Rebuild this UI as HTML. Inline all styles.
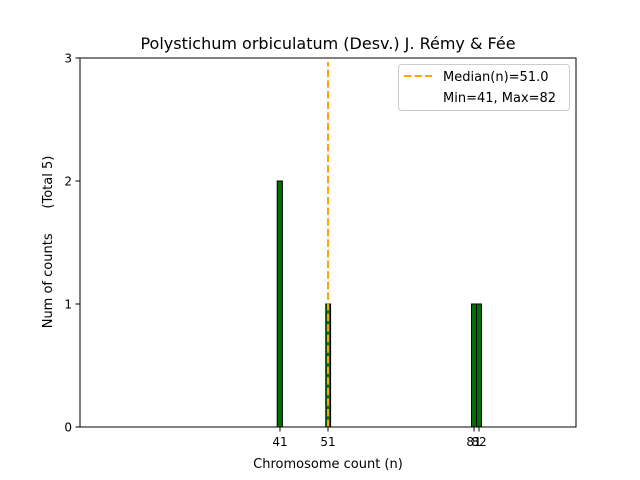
<!DOCTYPE html>
<html><head><style>body{margin:0;background:#fff}svg{display:block}text{font-family:"DejaVu Sans","Liberation Sans",sans-serif;fill:#000}</style></head>
<body>
<svg width="640" height="480" viewBox="0 0 640 480" xmlns="http://www.w3.org/2000/svg">
<rect width="640" height="480" fill="#fff"/>
<text x="328" y="49" font-size="16" text-anchor="middle">Polystichum orbiculatum (Desv.) J. Rémy &amp; Fée</text>
<g fill="#007000" stroke="#000" stroke-width="1">
<rect x="277.2" y="181" width="5.2" height="246"/>
<rect x="325.8" y="304" width="4.8" height="123"/>
<rect x="471.5" y="304" width="5" height="123"/>
<rect x="476.5" y="304" width="5" height="123"/>
</g>
<line x1="328" y1="427" x2="328" y2="62" stroke="#ffa500" stroke-width="2" stroke-dasharray="7.4,3.2"/>
<rect x="80" y="58" width="496" height="369" fill="none" stroke="#000" stroke-width="1"/>
<g stroke="#000" stroke-width="1">
<line x1="75.5" y1="427" x2="80" y2="427"/><line x1="75.5" y1="304" x2="80" y2="304"/>
<line x1="75.5" y1="181" x2="80" y2="181"/><line x1="75.5" y1="58" x2="80" y2="58"/>
<line x1="280" y1="427" x2="280" y2="431.5"/><line x1="328" y1="427" x2="328" y2="431.5"/>
<line x1="474" y1="427" x2="474" y2="431.5"/><line x1="479" y1="427" x2="479" y2="431.5"/>
</g>
<g font-size="12" text-anchor="end">
<text x="72" y="431.5">0</text><text x="72" y="308.5">1</text><text x="72" y="185.5">2</text><text x="72" y="62.5">3</text>
</g>
<g font-size="12" text-anchor="middle">
<text x="280" y="446">41</text><text x="328" y="446">51</text><text x="474" y="446">81</text><text x="479" y="446">82</text>
</g>
<text x="328" y="468" font-size="13" text-anchor="middle">Chromosome count (n)</text>
<text transform="translate(52,242) rotate(-90)" font-size="13" text-anchor="middle" xml:space="preserve" style="white-space:pre">Num of counts      (Total 5)</text>
<rect x="398.5" y="64.5" width="171" height="46" rx="3" fill="#fff" stroke="#ccc"/>
<line x1="404" y1="76" x2="432" y2="76" stroke="#ffa500" stroke-width="2" stroke-dasharray="7.4,3.2"/>
<text x="443" y="81" font-size="13">Median(n)=51.0</text>
<text x="443" y="102" font-size="13">Min=41, Max=82</text>
</svg>
</body></html>
